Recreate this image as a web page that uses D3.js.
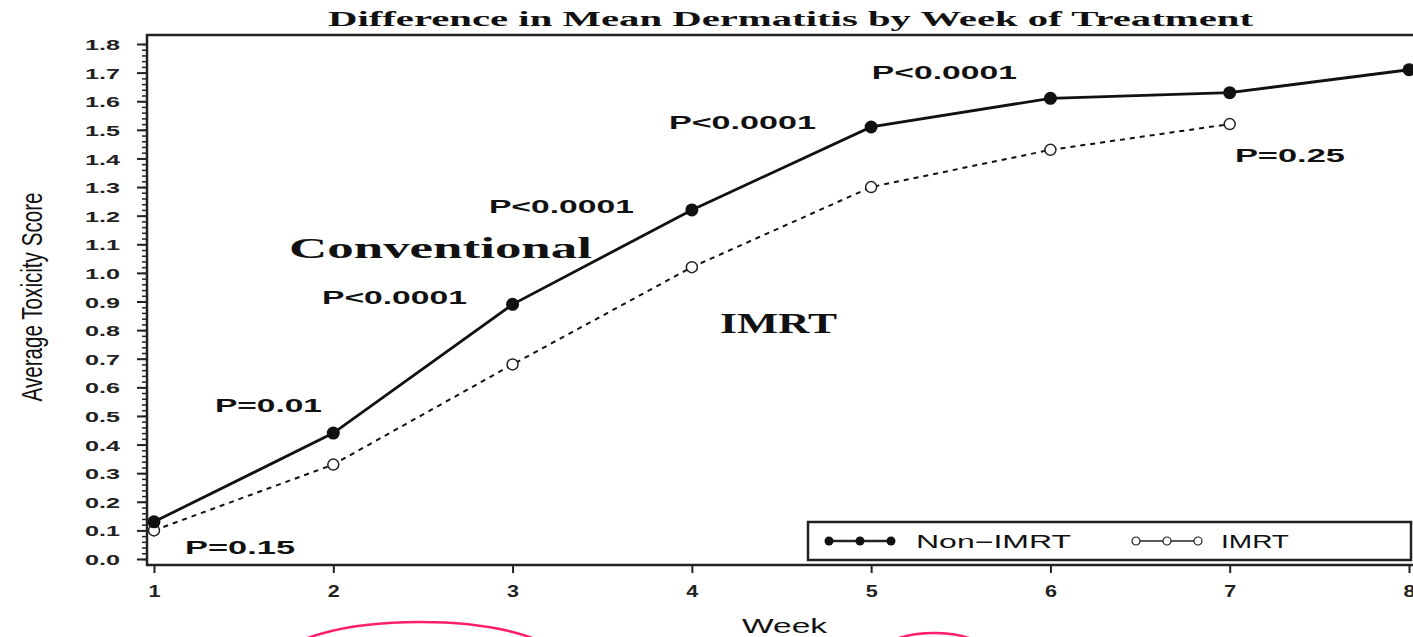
<!DOCTYPE html>
<html>
<head>
<meta charset="utf-8">
<script src="https://cdn.jsdelivr.net/npm/d3@7"></script>
<style>
  html, body { margin: 0; padding: 0; background: #fff; }
  svg { display: block; }
</style>
</head>
<body>
<div id="chart"></div>
<script>
// Data
const weeks = [1, 2, 3, 4, 5, 6, 7, 8];
const nonImrt = [0.13, 0.44, 0.89, 1.22, 1.51, 1.61, 1.63, 1.71];
const imrt = [0.10, 0.33, 0.68, 1.02, 1.30, 1.43, 1.52];
const yTicks = d3.range(0, 19).map(i => i / 10);
const yMinorTicks = d3.range(0, 91).map(i => i / 50);

// P values and group labels, placed in data units (week, score)
const pLabels = [
    { text: "P=0.15", week: 1.173, score: 0.017, w: 110 },
    { text: "P=0.01", week: 1.340, score: 0.514, w: 107 },
    { text: "P<0.0001", week: 1.937, score: 0.891, w: 145 },
    { text: "P<0.0001", week: 2.868, score: 1.209, w: 145 },
    { text: "P<0.0001", week: 3.872, score: 1.503, w: 147 },
    { text: "P<0.0001", week: 5.004, score: 1.678, w: 145 },
    { text: "P=0.25", week: 7.029, score: 1.388, w: 110 }
];
const groupLabels = [
    { text: "Conventional", week: 1.753, score: 1.052, w: 303 },
    { text: "IMRT", week: 4.157, score: 0.790, w: 117 }
];

const W = 1413, H = 637;
const frame = { left: 147, right: 1420, top: 35, bottom: 565 };

const x = d3.scaleLinear().domain([1, 8]).range([154, 1409]);
const y = d3.scaleLinear().domain([0, 1.8]).range([559, 44]);

const svg = d3.select("#chart")
    .append("svg")
    .attr("width", W)
    .attr("height", H);

const sans = "'Liberation Sans', Arial, sans-serif";
const serif = "'Liberation Serif', 'Times New Roman', serif";

// Title
svg.append("text")
    .attr("x", 328)
    .attr("y", 26)
    .attr("textLength", 925)
    .attr("lengthAdjust", "spacingAndGlyphs")
    .style("font-family", serif)
    .style("font-weight", "bold")
    .style("font-size", "20px")
    .attr("fill", "#111")
    .text("Difference in Mean Dermatitis by Week of Treatment");

// Plot frame
svg.append("rect")
    .attr("x", frame.left)
    .attr("y", frame.top)
    .attr("width", frame.right - frame.left)
    .attr("height", frame.bottom - frame.top)
    .attr("fill", "none")
    .attr("stroke", "#222")
    .attr("stroke-width", 2.5);

// Y axis: minor then major ticks
svg.append("g")
    .attr("transform", `translate(${frame.left},0)`)
    .call(d3.axisLeft(y).tickValues(yMinorTicks).tickSize(5).tickFormat(""))
    .call(g => g.select(".domain").remove())
    .selectAll("line")
    .attr("stroke", "#222")
    .attr("stroke-width", 1.5);

const yAxis = svg.append("g")
    .attr("transform", `translate(${frame.left},0)`)
    .call(d3.axisLeft(y).tickValues(yTicks).tickSize(10).tickFormat(d3.format(".1f")))
    .call(g => g.select(".domain").remove());

yAxis.selectAll("line")
    .attr("stroke", "#222")
    .attr("stroke-width", 2);

yAxis.selectAll("text")
    .attr("x", -27)
    .attr("dy", "0.36em")
    .attr("textLength", 35)
    .attr("lengthAdjust", "spacingAndGlyphs")
    .style("font-family", sans)
    .style("font-weight", "bold")
    .style("font-size", "15.5px")
    .attr("fill", "#222");

// X axis
const xAxis = svg.append("g")
    .attr("transform", `translate(0,${frame.bottom})`)
    .call(d3.axisBottom(x).tickValues(weeks).tickSize(8).tickFormat(d3.format("d")))
    .call(g => g.select(".domain").remove());

xAxis.selectAll("line")
    .attr("stroke", "#222")
    .attr("stroke-width", 2);

xAxis.selectAll("text")
    .attr("y", 32)
    .attr("dy", 0)
    .attr("textLength", 12)
    .attr("lengthAdjust", "spacingAndGlyphs")
    .style("font-family", sans)
    .style("font-weight", "bold")
    .style("font-size", "17px")
    .attr("fill", "#222");

// Axis titles
svg.append("text")
    .attr("transform", "translate(42,297) scale(1.45,1) rotate(-90)")
    .attr("text-anchor", "middle")
    .attr("textLength", 209)
    .attr("lengthAdjust", "spacingAndGlyphs")
    .style("font-family", sans)
    .style("font-size", "20px")
    .attr("fill", "#111")
    .text("Average Toxicity Score");

svg.append("text")
    .attr("x", 742)
    .attr("y", 633)
    .attr("textLength", 85)
    .attr("lengthAdjust", "spacingAndGlyphs")
    .style("font-family", sans)
    .style("font-size", "20px")
    .attr("fill", "#111")
    .text("Week");

// Lines
const lineNon = d3.line().x((d, i) => x(weeks[i])).y(d => y(d));

svg.append("path")
    .attr("d", lineNon(imrt))
    .attr("fill", "none")
    .attr("stroke", "#111")
    .attr("stroke-width", 2)
    .style("stroke-dasharray", "5,5");

svg.append("path")
    .attr("d", lineNon(nonImrt))
    .attr("fill", "none")
    .attr("stroke", "#111")
    .attr("stroke-width", 2.8);

// Points
svg.selectAll(".imrt-point")
    .data(imrt)
    .enter()
    .append("circle")
    .attr("class", "imrt-point")
    .attr("cx", (d, i) => x(weeks[i]))
    .attr("cy", d => y(d))
    .attr("r", 5.5)
    .attr("fill", "#fff")
    .attr("stroke", "#222")
    .attr("stroke-width", 1.5);

svg.selectAll(".non-point")
    .data(nonImrt)
    .enter()
    .append("circle")
    .attr("class", "non-point")
    .attr("cx", (d, i) => x(weeks[i]))
    .attr("cy", d => y(d))
    .attr("r", 6.5)
    .attr("fill", "#111");

// P value labels
svg.selectAll(".p-label")
    .data(pLabels)
    .enter()
    .append("text")
    .attr("class", "p-label")
    .attr("x", d => x(d.week))
    .attr("y", d => y(d.score))
    .attr("textLength", d => d.w)
    .attr("lengthAdjust", "spacingAndGlyphs")
    .style("font-family", sans)
    .style("font-weight", "bold")
    .style("font-size", "19px")
    .attr("fill", "#111")
    .text(d => d.text);

svg.selectAll(".group-label")
    .data(groupLabels)
    .enter()
    .append("text")
    .attr("class", "group-label")
    .attr("x", d => x(d.week))
    .attr("y", d => y(d.score))
    .attr("textLength", d => d.w)
    .attr("lengthAdjust", "spacingAndGlyphs")
    .style("font-family", serif)
    .style("font-weight", "bold")
    .style("font-size", "30px")
    .attr("fill", "#111")
    .text(d => d.text);

// Legend
const legend = svg.append("g").attr("transform", "translate(808,522)");

legend.append("rect")
    .attr("width", 603)
    .attr("height", 38)
    .attr("fill", "#fff")
    .attr("stroke", "#222")
    .attr("stroke-width", 2.5);

const legendItems = [
    { name: "Non\u2212IMRT", filled: true, x0: 21, textX: 108, w: 155 },
    { name: "IMRT", filled: false, x0: 328, textX: 413, w: 68 }
];

const item = legend.selectAll(".legend-item")
    .data(legendItems)
    .enter()
    .append("g")
    .attr("class", "legend-item")
    .attr("transform", d => `translate(${d.x0},19)`);

item.append("line")
    .attr("x1", 0)
    .attr("x2", 62)
    .attr("stroke", "#222")
    .attr("stroke-width", d => d.filled ? 2.5 : 1.3);

item.selectAll("circle")
    .data(d => [0, 31, 62].map(cx => ({ cx, filled: d.filled })))
    .enter()
    .append("circle")
    .attr("cx", d => d.cx)
    .attr("r", d => d.filled ? 4.5 : 4)
    .attr("fill", d => d.filled ? "#111" : "#fff")
    .attr("stroke", "#222")
    .attr("stroke-width", d => d.filled ? 0 : 1.2);

item.append("text")
    .attr("x", d => d.textX - d.x0)
    .attr("y", 7)
    .attr("textLength", d => d.w)
    .attr("lengthAdjust", "spacingAndGlyphs")
    .style("font-family", sans)
    .style("font-size", "18px")
    .attr("fill", "#111")
    .text(d => d.name);

// Pink pen marks at the bottom edge of the scan
svg.append("g")
    .attr("fill", "none")
    .attr("stroke", "#ff1f6e")
    .attr("stroke-width", 2.5)
    .selectAll("ellipse")
    .data([{ cx: 420, cy: 662, rx: 140, ry: 40 }, { cx: 934, cy: 665, rx: 65, ry: 32 }])
    .enter()
    .append("ellipse")
    .attr("cx", d => d.cx)
    .attr("cy", d => d.cy)
    .attr("rx", d => d.rx)
    .attr("ry", d => d.ry);
</script>
</body>
</html>
